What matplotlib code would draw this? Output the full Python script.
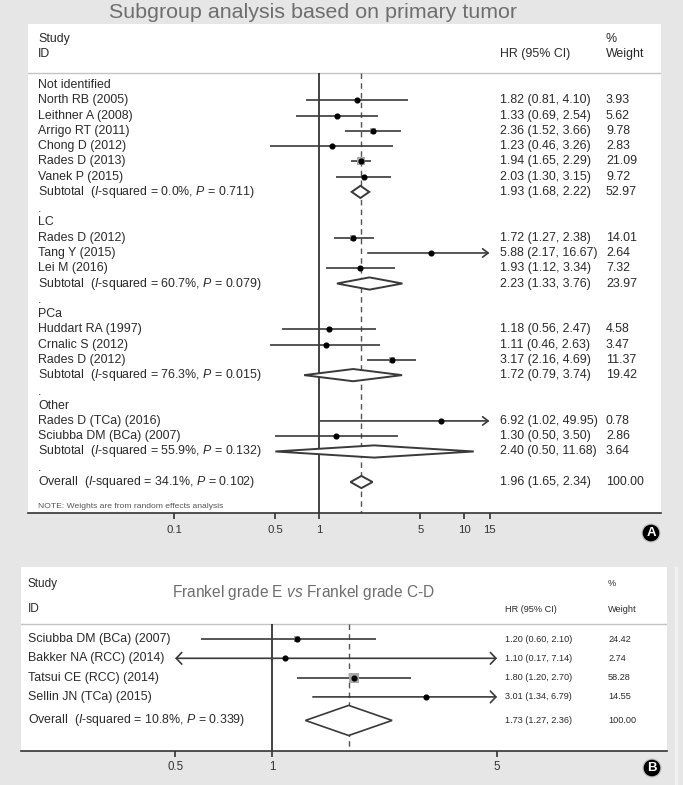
import matplotlib.pyplot as plt
import numpy as np
from matplotlib.ticker import FixedLocator, FixedFormatter, NullLocator
from matplotlib.transforms import blended_transform_factory
from matplotlib.patches import Rectangle

plt.rcParams['font.family'] = 'Liberation Sans'
plt.rcParams['mathtext.fontset'] = 'custom'
plt.rcParams['mathtext.rm'] = 'Liberation Sans'
plt.rcParams['mathtext.it'] = 'Liberation Sans:italic'

# --- Panel A data: subgroup analysis by primary tumor ---
A_TITLE = "Subgroup analysis based on primary tumor"
A_LABELS = [
    "Not identified",
    "North RB (2005)", "Leithner A (2008)", "Arrigo RT (2011)", "Chong D (2012)",
    "Rades D (2013)", "Vanek P (2015)",
    "Subtotal  ($\\mathit{I}$-squared = 0.0%, $\\mathit{P}$ = 0.711)",
    ".",
    "LC",
    "Rades D (2012)", "Tang Y (2015)", "Lei M (2016)",
    "Subtotal  ($\\mathit{I}$-squared = 60.7%, $\\mathit{P}$ = 0.079)",
    ".",
    "PCa",
    "Huddart RA (1997)", "Crnalic S (2012)", "Rades D (2012)",
    "Subtotal  ($\\mathit{I}$-squared = 76.3%, $\\mathit{P}$ = 0.015)",
    ".",
    "Other",
    "Rades D (TCa) (2016)", "Sciubba DM (BCa) (2007)",
    "Subtotal  ($\\mathit{I}$-squared = 55.9%, $\\mathit{P}$ = 0.132)",
    ".",
    "Overall  ($\\mathit{I}$-squared = 34.1%, $\\mathit{P}$ = 0.102)",
]
A_KIND = ['head', 's', 's', 's', 's', 's', 's', 'sub', 'blank',
          'head', 's', 's', 's', 'sub', 'blank',
          'head', 's', 's', 's', 'sub', 'blank',
          'head', 's', 's', 'sub', 'blank', 'sub']
A_HR = [None, 1.82, 1.33, 2.36, 1.23, 1.94, 2.03, 1.93, None,
        None, 1.72, 5.88, 1.93, 2.23, None,
        None, 1.18, 1.11, 3.17, 1.72, None,
        None, 6.92, 1.30, 2.40, None, 1.96]
A_LO = [None, 0.81, 0.69, 1.52, 0.46, 1.65, 1.30, 1.68, None,
        None, 1.27, 2.17, 1.12, 1.33, None,
        None, 0.56, 0.46, 2.16, 0.79, None,
        None, 1.02, 0.50, 0.50, None, 1.65]
A_HI = [None, 4.10, 2.54, 3.66, 3.26, 2.29, 3.15, 2.22, None,
        None, 2.38, 16.67, 3.34, 3.76, None,
        None, 2.47, 2.63, 4.69, 3.74, None,
        None, 49.95, 3.50, 11.68, None, 2.34]
A_WT = [None, 3.93, 5.62, 9.78, 2.83, 21.09, 9.72, 52.97, None,
        None, 14.01, 2.64, 7.32, 23.97, None,
        None, 4.58, 3.47, 11.37, 19.42, None,
        None, 0.78, 2.86, 3.64, None, 100.00]
A_ROWS = list(range(len(A_LABELS)))
A_OVERALL = 1.96
A_TICKS = [0.1, 0.5, 1, 5, 10, 15]
A_TICK_LABELS = ["0.1", "0.5", "1", "5", "10", "15"]
A_NOTE = "NOTE: Weights are from random effects analysis"

# --- Panel B data: Frankel grade ---
B_TITLE = "Frankel grade E $\\mathit{vs}$ Frankel grade C-D"
B_LABELS = [
    "Sciubba DM (BCa) (2007)", "Bakker NA (RCC) (2014)",
    "Tatsui CE (RCC) (2014)", "Sellin JN (TCa) (2015)",
    "Overall  ($\\mathit{I}$-squared = 10.8%, $\\mathit{P}$ = 0.339)",
]
B_KIND = ['s', 's', 's', 's', 'sub']
B_HR = [1.20, 1.10, 1.80, 3.01, 1.73]
B_LO = [0.60, 0.17, 1.20, 1.34, 1.27]
B_HI = [2.10, 7.14, 2.70, 6.79, 2.36]
B_WT = [24.42, 2.74, 58.28, 14.55, 100.00]
B_ROWS = [0, 1, 2, 3, 4.22]
B_OVERALL = 1.73
B_TICKS = [0.5, 1, 5]
B_TICK_LABELS = ["0.5", "1", "5"]

# --- Layout (pixels of the 683x785 image) ---
W, H = 683, 785
BG = '#e6e6e6'
INK = '#2a2a2a'
LINE = '#3a3a3a'
TITLE_GREY = '#6e6e6e'

CFG_A = dict(box=(28, 24, 661, 513), x1=319, dec=145, y0=85, dy=15.27,
             clip=(0.1, 15), sep=73, cols=(38, 500, 606),
             head_rows=(-2.98, -2.0), fs=8.9, val_fs=8.9, head_fs=8.9,
             box_k=1.6, dia_h=0.40, arrow=(0.40, 0.30), tick_fs=8.2,
             tick_pad=4.0, dia_lw=1.4)
CFG_B = dict(box=(21, 567, 667, 751), x1=272, dec=322, y0=639, dy=19.3,
             clip=(0.5, 5), sep=624, cols=(28, 505, 608),
             head_rows=(-2.85, -1.55), fs=8.9, val_fs=6.6, head_fs=8.5,
             box_k=1.2, dia_h=0.78, arrow=(0.40, 0.42), tick_fs=8.3,
             tick_pad=3.0, dia_lw=1.2)


def draw_panel(fig, cfg, labels, kind, hr, lo, hi, wt, rows, overall,
               ticks, tick_labels):
    l, t, r, b = cfg['box']
    ax = fig.add_axes([l / W, 1 - b / H, (r - l) / W, (b - t) / H])
    ax.set_facecolor('white')
    ax.set_xscale('log')
    ax.set_xlim(10 ** ((l - cfg['x1']) / cfg['dec']),
                10 ** ((r - cfg['x1']) / cfg['dec']))
    ybot = (b - cfg['y0']) / cfg['dy']
    ax.set_ylim(ybot, (t - cfg['y0']) / cfg['dy'])
    sep = (cfg['sep'] - cfg['y0']) / cfg['dy']
    trans = blended_transform_factory(ax.transAxes, ax.transData)
    fx = [(c - l) / (r - l) for c in cfg['cols']]

    # --- 1. header ---
    ax.axhline(sep, color='#c4c4c4', lw=1.0, zorder=1)
    h1, h2 = cfg['head_rows']
    ax.text(fx[0], h1, "Study", transform=trans, fontsize=cfg['head_fs'],
            color=INK, va='center')
    ax.text(fx[0], h2, "ID", transform=trans, fontsize=cfg['head_fs'],
            color=INK, va='center')
    ax.text(fx[1], h2, "HR (95% CI)", transform=trans, fontsize=cfg['val_fs'],
            color=INK, va='center')
    ax.text(fx[2], h1, "%", transform=trans, fontsize=cfg['val_fs'],
            color=INK, va='center')
    ax.text(fx[2], h2, "Weight", transform=trans, fontsize=cfg['val_fs'],
            color=INK, va='center')

    # --- 2. reference lines ---
    ax.vlines(1, sep, ybot, color='#222222', lw=1.2, zorder=2)
    ax.vlines(overall, sep, ybot, color='#555555', lw=1.0,
              linestyles=(0, (4, 3)), zorder=2)

    # --- 3. rows ---
    cmin, cmax = cfg['clip']
    ah_len, ah_wid = cfg['arrow']
    for lab, k, e, a, z, w, y in zip(labels, kind, hr, lo, hi, wt, rows):
        va = 'baseline' if k == 'blank' else 'center'
        ax.text(fx[0], y + (0.3 if k == 'blank' else 0), lab, transform=trans,
                fontsize=cfg['fs'], color=INK, va=va)
        if e is None:
            continue
        ax.text(fx[1], y, f"{e:.2f} ({a:.2f}, {z:.2f})", transform=trans,
                fontsize=cfg['val_fs'], color=INK, va='center')
        ax.text(fx[2], y, f"{w:.2f}", transform=trans,
                fontsize=cfg['val_fs'], color=INK, va='center')
        if k == 'sub':
            h = cfg['dia_h']
            ax.fill([a, e, z, e, a], [y, y - h, y, y + h, y], fc='white',
                    ec=LINE, lw=cfg['dia_lw'], zorder=4)
            continue
        x0, x1 = max(a, cmin), min(z, cmax)
        if a < cmin or z > cmax:
            style = ('<' if a < cmin else '') + '-' + ('>' if z > cmax else '')
            ax.annotate('', xy=(x1, y), xytext=(x0, y),
                        arrowprops=dict(arrowstyle=f"{style},head_length={ah_len},head_width={ah_wid}",
                                        color=LINE, lw=1.2, shrinkA=0, shrinkB=0,
                                        mutation_scale=10), zorder=3)
        else:
            ax.plot([x0, x1], [y, y], color=LINE, lw=1.2, zorder=3,
                    solid_capstyle='butt')
        side = cfg['box_k'] * np.sqrt(w) * 0.72
        ax.scatter([e], [y], marker='s', s=side ** 2, color='#a9a9a9',
                   lw=0, zorder=4)
        ax.plot([e], [y], 'o', color='black', ms=3.4, zorder=5)

    # --- 4. axis ---
    for sp in ('top', 'left', 'right'):
        ax.spines[sp].set_visible(False)
    ax.spines['bottom'].set_color('#333333')
    ax.spines['bottom'].set_linewidth(1.2)
    ax.yaxis.set_visible(False)
    ax.xaxis.set_major_locator(FixedLocator(ticks))
    ax.xaxis.set_major_formatter(FixedFormatter(tick_labels))
    ax.xaxis.set_minor_locator(NullLocator())
    ax.tick_params(axis='x', direction='out', length=4.3, width=1.2,
                   color='#333333', labelcolor='#333333',
                   labelsize=cfg['tick_fs'], pad=cfg['tick_pad'])
    return ax


fig = plt.figure(figsize=(W / 100, H / 100), dpi=100, facecolor=BG)

draw_panel(fig, CFG_A, A_LABELS, A_KIND, A_HR, A_LO, A_HI, A_WT, A_ROWS,
           A_OVERALL, A_TICKS, A_TICK_LABELS)
draw_panel(fig, CFG_B, B_LABELS, B_KIND, B_HR, B_LO, B_HI, B_WT, B_ROWS,
           B_OVERALL, B_TICKS, B_TICK_LABELS)

# note under panel A rows
fig.text(38 / W, 1 - 506 / H, A_NOTE, fontsize=6.1, color='#555555',
         va='center')

# titles
fig.text(109 / W, 1 - 18 / H, A_TITLE, fontsize=15.4, color=TITLE_GREY,
         va='baseline')
fig.text(172 / W, 1 - 593 / H, B_TITLE, fontsize=11.2, color=TITLE_GREY,
         va='center')

# panel badges
for letter, (px, py) in (("A", (651, 533)), ("B", (652, 768))):
    fig.text(px / W, 1 - py / H, letter, fontsize=9.5, fontweight='bold',
             color='white', ha='center', va='center',
             bbox=dict(boxstyle='circle,pad=0.22', fc='black', ec='#bdbdbd',
                       lw=0.8))

# faint strip to the right of panel B
fig.patches.append(Rectangle((675 / W, 0), 2 / W, (H - 567) / H,
                             transform=fig.transFigure, color='#f1f1f1',
                             zorder=0))

plt.savefig('out.png', dpi=100, facecolor=BG)
